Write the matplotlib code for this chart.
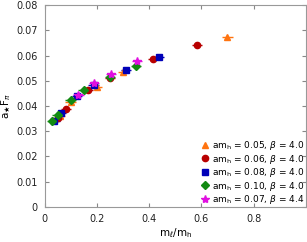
#!/usr/bin/env python3
"""
Decay constant a*F_pi against the quark mass ratio m_l/m_h.
"""

import matplotlib
matplotlib.use('Agg')
import matplotlib.pyplot as plt
from matplotlib.lines import Line2D

# am_h = 0.05, beta = 4.0
x_005 = [0.70, 0.30, 0.20, 0.10, 0.06]
y_005 = [0.0675, 0.0533, 0.0477, 0.0414, 0.0360]

# am_h = 0.06, beta = 4.0
x_006 = [0.583, 0.417, 0.25, 0.167, 0.083, 0.05]
y_006 = [0.0640, 0.0587, 0.0512, 0.0464, 0.0388, 0.0352]

# am_h = 0.08, beta = 4.0
x_008 = [0.4375, 0.3125, 0.1875, 0.125, 0.0625, 0.0375]
y_008 = [0.0594, 0.0544, 0.0484, 0.0440, 0.0374, 0.0340]

# am_h = 0.10, beta = 4.0
x_010 = [0.35, 0.25, 0.15, 0.10, 0.05, 0.03]
y_010 = [0.0557, 0.0513, 0.0463, 0.0424, 0.0366, 0.0339]

# am_h = 0.07, beta = 4.4
x_007 = [0.353, 0.254, 0.19, 0.13]
y_007 = [0.0577, 0.0528, 0.0491, 0.0443]

xerr = 0.02
yerr = 0.0006

series = [
    (x_005, y_005, '^', 4.5, '#ff7410', r'am$_\mathrm{h}$ = 0.05, $\beta$ = 4.0'),
    (x_006, y_006, 'o', 4.5, '#b80000', r'am$_\mathrm{h}$ = 0.06, $\beta$ = 4.0'),
    (x_008, y_008, 's', 4.0, '#0000b8', r'am$_\mathrm{h}$ = 0.08, $\beta$ = 4.0'),
    (x_010, y_010, 'D', 3.8, '#128a12', r'am$_\mathrm{h}$ = 0.10, $\beta$ = 4.0'),
    (x_007, y_007, '*', 6.0, '#e010e0', r'am$_\mathrm{h}$ = 0.07, $\beta$ = 4.4'),
]

fig = plt.figure(figsize=(3.07, 2.42), dpi=100)
ax = fig.add_axes([0.145, 0.145, 0.851, 0.834])

handles = []
for xs, ys, mk, ms, col, lab in series:
    ax.errorbar(xs, ys, xerr=xerr, yerr=yerr, fmt=mk, color=col, ms=ms,
                mec=col, elinewidth=1, capsize=0)
    handles.append(Line2D([], [], ls='none', marker=mk, ms=ms, color=col,
                          mec=col, label=lab))

ax.set_xlim(0, 1)
ax.set_ylim(0, 0.08)
ax.set_xticks([0, 0.2, 0.4, 0.6, 0.8])
ax.set_xticklabels(['0', '0.2', '0.4', '0.6', '0.8'])
ax.set_yticks([0, 0.01, 0.02, 0.03, 0.04, 0.05, 0.06, 0.07, 0.08])
ax.set_yticklabels(['0', '0.01', '0.02', '0.03', '0.04', '0.05', '0.06',
                    '0.07', '0.08'])
ax.tick_params(direction='in', top=True, right=True, length=3,
               color='#888888', labelsize=7, labelcolor='#222222', pad=5)
for sp in ax.spines.values():
    sp.set_color('#999999')

ax.set_xlabel(r'm$_\ell$/m$_\mathrm{h}$', fontsize=7.5, labelpad=2)
ax.set_ylabel(r'a$_\bigstar$F$_\pi$', fontsize=7.5, labelpad=2)

ax.legend(handles=handles, loc='lower right', fontsize=6.5, frameon=False,
          borderaxespad=0.0, handletextpad=0.3, labelspacing=0.05,
          handlelength=1.0, borderpad=0.1)

fig.savefig('out.png', dpi=100)
